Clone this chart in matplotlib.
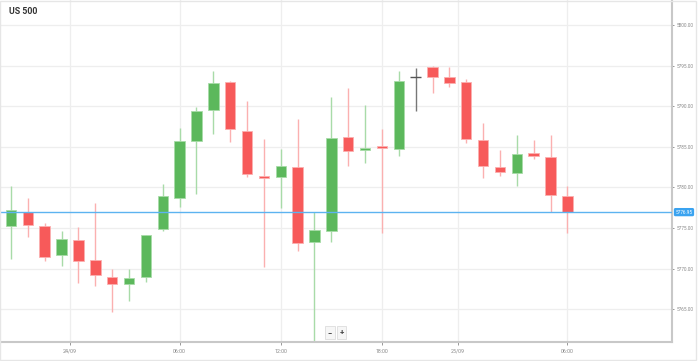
import numpy as np
import matplotlib.pyplot as plt
from matplotlib.patches import Rectangle

plt.rcParams['font.family'] = ['Roboto', 'DejaVu Sans']

# hourly candles, US 500
opens = [5775.24, 5777.00, 5775.24, 5771.63, 5773.48, 5771.01, 5768.99, 5768.05, 5768.99, 5774.87,
         5778.73, 5785.72, 5789.51, 5793.03, 5786.99, 5781.44, 5781.28, 5782.52, 5773.27, 5774.62,
         5786.22, 5784.65, 5785.11, 5784.77, 5793.61, 5794.88, 5793.58, 5792.96, 5785.85, 5782.52,
         5781.74, 5784.28, 5783.75, 5778.90]
highs = [5780.17, 5778.73, 5775.57, 5774.62, 5775.08, 5778.11, 5769.90, 5769.90, 5774.13, 5780.42,
         5787.36, 5789.91, 5794.39, 5793.12, 5790.65, 5785.97, 5784.70, 5788.40, 5776.93, 5791.18,
         5792.20, 5790.16, 5787.16, 5794.39, 5794.69, 5794.95, 5794.88, 5793.40, 5787.90, 5784.65,
         5786.46, 5785.88, 5786.46, 5780.17]
lows = [5771.14, 5773.92, 5770.93, 5770.31, 5768.18, 5767.88, 5764.68, 5765.96, 5768.37, 5774.66,
        5777.62, 5779.15, 5786.58, 5785.64, 5781.32, 5770.15, 5777.50, 5772.16, 5758.00, 5773.23,
        5782.64, 5782.97, 5774.42, 5783.91, 5789.46, 5791.68, 5792.42, 5785.44, 5781.20, 5781.44,
        5780.17, 5783.47, 5776.97, 5774.42]
closes = [5777.21, 5775.36, 5771.38, 5773.60, 5770.89, 5769.16, 5768.13, 5768.87, 5774.13, 5778.90,
          5785.68, 5789.38, 5792.91, 5787.16, 5781.65, 5781.12, 5782.64, 5773.14, 5774.71, 5786.13,
          5784.49, 5784.90, 5784.90, 5793.12, 5793.61, 5793.58, 5792.91, 5785.93, 5782.68, 5781.86,
          5784.16, 5783.91, 5779.03, 5776.95]

x_tick_pos = [3.5, 10, 16, 22, 26.5, 33]
x_tick_labels = ["24/09", "06:00", "12:00", "18:00", "25/09", "06:00"]
y_ticks = [5765, 5770, 5775, 5780, 5785, 5790, 5795, 5800]

green = '#5cb85c'
red = '#f75a5a'
green_light = '#a8dba8'
red_light = '#fbb0b0'

fig = plt.figure(figsize=(6.98, 3.61), dpi=100)
ax = fig.add_axes([0, 19/361, 672/698, 342/361])

x = np.arange(len(opens))
o = np.array(opens)
c = np.array(closes)
h = np.array(highs)
l = np.array(lows)

# wicks first, bodies on top
for i in range(len(x)):
    if o[i] == c[i]:
        ax.vlines(x[i], l[i], h[i], color='#777777', lw=1, zorder=2)
        ax.hlines(o[i], x[i] - 0.31, x[i] + 0.31, color='#555555', lw=1, zorder=3)
        continue
    up = c[i] > o[i]
    ax.vlines(x[i], l[i], h[i], color=green_light if up else red_light, lw=1, zorder=2)
    ax.bar(x[i], abs(c[i] - o[i]), bottom=min(o[i], c[i]), width=0.62,
           color=green if up else red, edgecolor=green_light if up else red_light,
           linewidth=0.6, zorder=3)

# last price line + label
last = closes[-1]
ax.axhline(last, color='#5cb3f0', lw=1, zorder=4)
ax.annotate("%.2f" % last, xy=(1.0, last), xycoords=('axes fraction', 'data'),
            xytext=(2.5, 0), textcoords='offset points', fontsize=3.4, color='white',
            va='center', ha='left', annotation_clip=False,
            bbox=dict(boxstyle='round,pad=0.2', fc='#3aa3f0', ec='#3aa3f0'))

ax.set_xlim(-0.65, 39.2)
ax.set_ylim(5760.94, 5803.1)

ax.set_xticks(x_tick_pos)
ax.set_xticklabels(x_tick_labels)
ax.set_yticks(y_ticks)
ax.set_yticklabels(["%.2f" % v for v in y_ticks])
ax.yaxis.tick_right()
ax.tick_params(axis='y', labelsize=3.4, colors='#888888', length=1.5, width=0.6, pad=1.5)
ax.tick_params(axis='x', labelsize=3.8, colors='#888888', length=2, width=0.6, pad=3)

ax.grid(True, color='#eeeeee', lw=0.9, zorder=0)
ax.set_axisbelow(True)
for side in ['left', 'top']:
    ax.spines[side].set_visible(False)
ax.spines['right'].set_color('#c8c8c8')
ax.spines['right'].set_linewidth(1.5)
ax.spines['bottom'].set_color('#c8c8c8')
ax.spines['bottom'].set_linewidth(1.5)

# title
fig.text(9/698, 1 - 11/361, "US 500", fontsize=6.3, fontweight='bold',
         color='#333333', va='center', ha='left')

# zoom buttons, two small boxes
for bx, sym in [(330, "\u2212"), (341.5, "+")]:
    fig.text(bx/698, 1 - 332.5/361, sym, fontsize=5.5, fontweight='bold', color='#444444',
             va='center', ha='center',
             bbox=dict(boxstyle='square,pad=0.35', fc='#f6f6f6', ec='#dddddd', lw=0.6))

# outer frame
fig.patches.append(Rectangle((0, 1/361), 696/698, 359/361, transform=fig.transFigure,
                             fill=False, ec='#e6e6e6', lw=1))

fig.savefig('out.png', dpi=100)
